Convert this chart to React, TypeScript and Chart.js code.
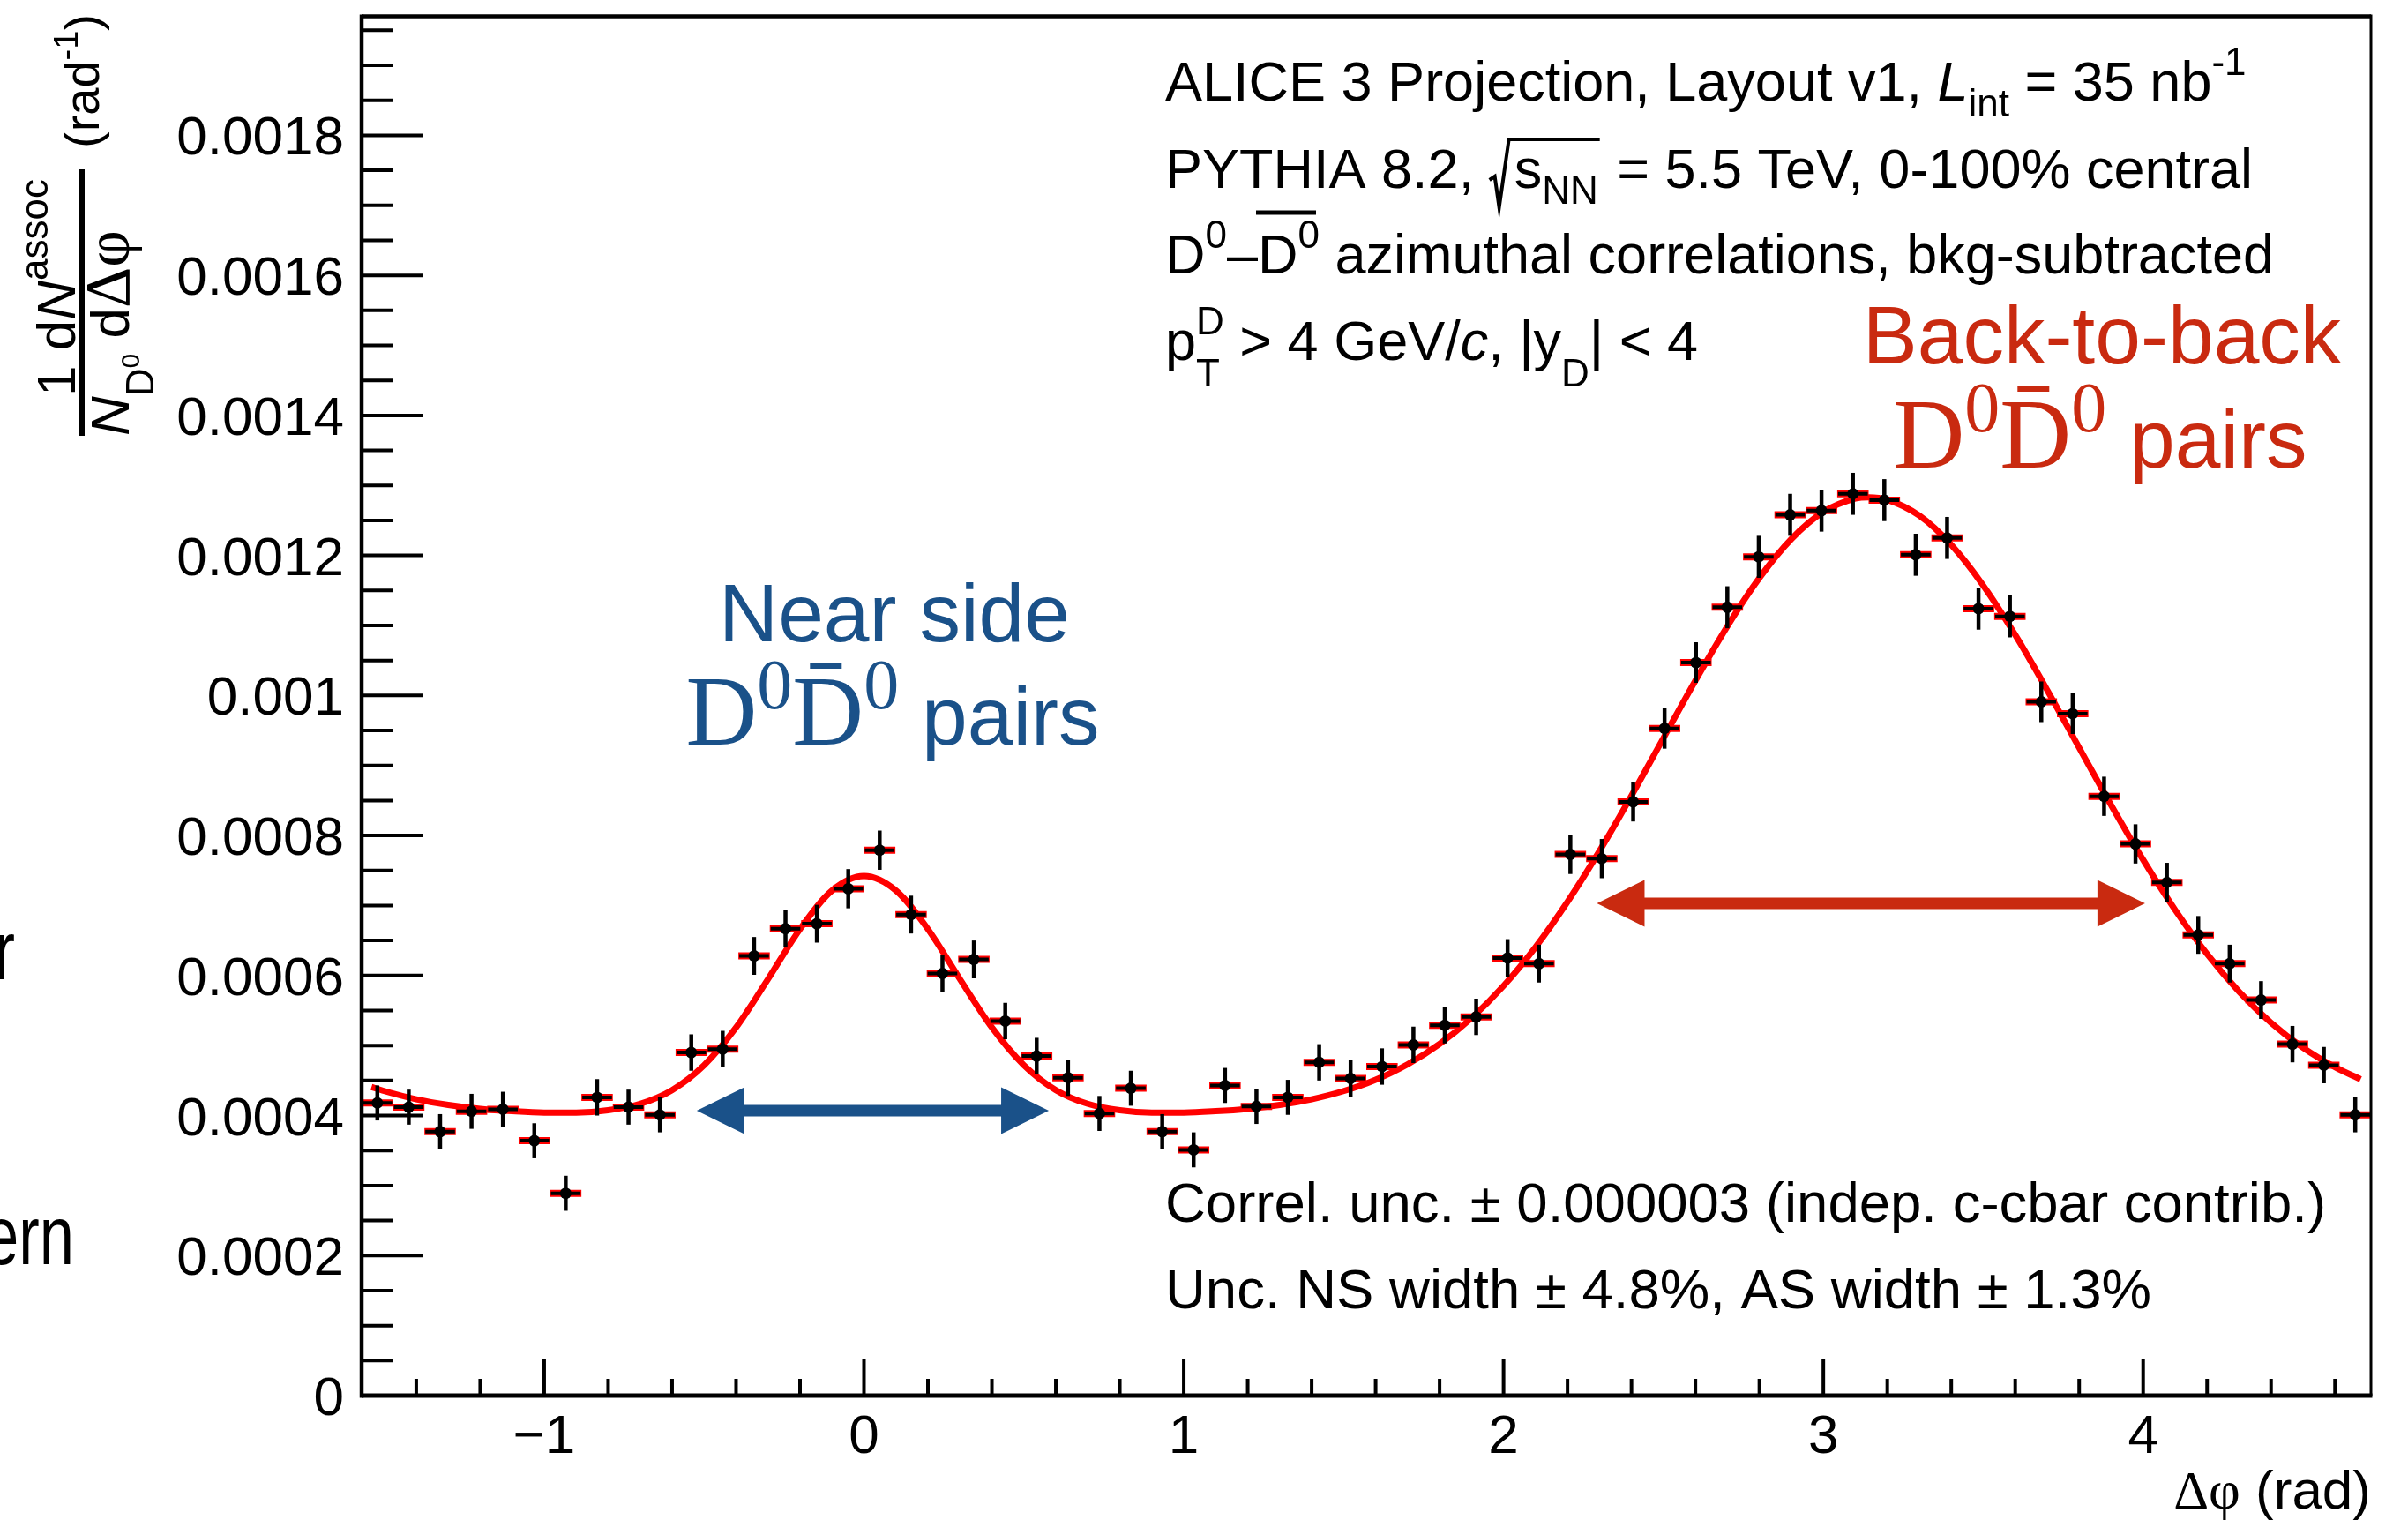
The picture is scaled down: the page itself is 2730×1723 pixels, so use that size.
import React, { useEffect, useRef } from "react";
import { Chart, registerables } from "chart.js";
Chart.register(...registerables);

const W = 2730;
const H = 1723;
const SANS = '"Liberation Sans", Arial, Helvetica, sans-serif';
const SERIF = '"Liberation Serif", "Times New Roman", serif';
const BLUE = "#1a5189";
const DARKRED = "#c92a10";

// ---- data: D0-D0bar azimuthal correlation (64 bins over [-pi/2, 3pi/2]) ----
const binCenters = [
  -1.5217, -1.4235, -1.3254, -1.2272, -1.129, -1.0308, -0.9327, -0.8345, -0.7363, -0.6381, -0.54, -0.4418,
  -0.3436, -0.2454, -0.1473, -0.0491, 0.0491, 0.1473, 0.2454, 0.3436, 0.4418, 0.54, 0.6381, 0.7363,
  0.8345, 0.9327, 1.0308, 1.129, 1.2272, 1.3254, 1.4235, 1.5217, 1.6199, 1.7181, 1.8162, 1.9144,
  2.0126, 2.1108, 2.2089, 2.3071, 2.4053, 2.5035, 2.6016, 2.6998, 2.798, 2.8962, 2.9943, 3.0925,
  3.1907, 3.2889, 3.387, 3.4852, 3.5834, 3.6816, 3.7797, 3.8779, 3.9761, 4.0743, 4.1724, 4.2706,
  4.3688, 4.467, 4.5651, 4.6633,
];
const binHalfWidth = 0.0491;
const yieldValues = [
  0.000418, 0.000412, 0.000377, 0.000406, 0.000409, 0.000364, 0.000289, 0.000426, 0.000412, 0.000401, 0.00049, 0.000495,
  0.000628, 0.000667, 0.000674, 0.000724, 0.000779, 0.000687, 0.000603, 0.000623, 0.000535, 0.000485, 0.000454, 0.000403,
  0.000439, 0.000377, 0.000351, 0.000443, 0.000413, 0.000426, 0.000476, 0.000453, 0.00047, 0.000501, 0.000529, 0.000541,
  0.000625, 0.000617, 0.000773, 0.000767, 0.000848, 0.000953, 0.001047, 0.001126, 0.001198, 0.001258, 0.001264, 0.001288,
  0.001279, 0.001201, 0.001225, 0.001124, 0.001113, 0.000991, 0.000974, 0.000856, 0.000788, 0.000733, 0.000658, 0.000617,
  0.000565, 0.000502, 0.000472, 0.000401,
];
const yieldErrors = [
  0.000025, 0.000025, 0.000025, 0.000025, 0.000025, 0.000025, 0.000025, 0.000026, 0.000025, 0.000025, 0.000026, 0.000026,
  0.000027, 0.000027, 0.000027, 0.000028, 0.000028, 0.000027, 0.000027, 0.000027, 0.000026, 0.000026, 0.000026, 0.000025,
  0.000025, 0.000025, 0.000025, 0.000025, 0.000025, 0.000025, 0.000026, 0.000026, 0.000026, 0.000026, 0.000026, 0.000026,
  0.000027, 0.000027, 0.000028, 0.000028, 0.000028, 0.000029, 0.000029, 0.00003, 0.00003, 0.00003, 0.00003, 0.00003,
  0.00003, 0.00003, 0.00003, 0.00003, 0.00003, 0.000029, 0.000029, 0.000028, 0.000028, 0.000028, 0.000027, 0.000027,
  0.000027, 0.000026, 0.000026, 0.000025,
];

// fit curve
const fitX = [
  -1.54, -1.5, -1.4, -1.3, -1.2, -1.1, -1.0, -0.9, -0.8, -0.7, -0.6, -0.5, -0.4, -0.3, -0.2, -0.1, 0,
  0.1, 0.2, 0.3, 0.4, 0.5, 0.6, 0.7, 0.8, 0.9, 1.0, 1.1, 1.2, 1.3, 1.4, 1.5, 1.6, 1.7, 1.8, 1.9, 2.0,
  2.1, 2.2, 2.3, 2.4, 2.5, 2.6, 2.7, 2.8, 2.9, 3.0, 3.1, 3.1416, 3.2, 3.3, 3.4, 3.5, 3.6, 3.7, 3.8, 3.9,
  4.0, 4.1, 4.2, 4.3, 4.4, 4.5, 4.6, 4.68,
];
const fitY = [
  0.0004408, 0.000435, 0.0004233, 0.0004152, 0.0004096, 0.0004062, 0.0004043, 0.0004043, 0.0004075, 0.0004167,
  0.0004364, 0.0004719, 0.0005258, 0.0005949, 0.0006663, 0.0007213, 0.000742,
  0.0007213, 0.0006663, 0.0005949, 0.0005258, 0.0004719, 0.0004364, 0.0004167, 0.0004075, 0.0004043, 0.0004043,
  0.0004062, 0.0004096, 0.0004152, 0.0004233, 0.000435, 0.0004512, 0.0004732, 0.0005022, 0.0005393, 0.0005853,
  0.0006407, 0.0007053, 0.0007779, 0.0008569, 0.0009392, 0.0010213, 0.001099, 0.0011678, 0.0012234, 0.0012621,
  0.0012812, 0.001283, 0.0012794, 0.0012569, 0.0012151, 0.0011571, 0.0010865, 0.0010078, 0.0009253, 0.0008433,
  0.0007652, 0.0006938, 0.0006307, 0.0005769, 0.0005324, 0.0004968, 0.0004691, 0.0004518,
];

const yMajorTicks = [0, 0.0002, 0.0004, 0.0006, 0.0008, 0.001, 0.0012, 0.0014, 0.0016, 0.0018];
const yTickLabels = ["0", "0.0002", "0.0004", "0.0006", "0.0008", "0.001", "0.0012", "0.0014", "0.0016", "0.0018"];
const xMajorTicks = [-1, 0, 1, 2, 3, 4];
const xTickLabels = ["\u22121", "0", "1", "2", "3", "4"];
const yMinorStep = 0.00005;
const xMinorStep = 0.2;
const X_MIN = -Math.PI / 2;
const X_MAX = (3 * Math.PI) / 2;
const Y_MIN = 0;
const Y_MAX = 0.00197;

const nearArrow = { from: -0.523, to: 0.578, y: 0.000407 };
const awayArrow = { from: 2.292, to: 4.006, y: 0.000703 };

// ---- rich text helpers ----
type Seg = {
  t?: string;
  f?: string;
  dy?: number;
  stack?: Seg[];
  sqrt?: Seg[];
  over?: Seg[];
  barDy?: number;
  barA?: number;
  barLen?: number;
  barLw?: number;
};

const F = (px: number, style = "") => `${style}${px}px ${SANS}`;
const FS = (px: number) => `${px}px ${SERIF}`;

function segWidth(ctx: CanvasRenderingContext2D, s: Seg): number {
  if (s.stack) return Math.max(...s.stack.map((c) => segWidth(ctx, c)));
  if (s.sqrt) return 28 + runWidth(ctx, s.sqrt) + 4;
  if (s.over) return runWidth(ctx, s.over);
  ctx.font = s.f as string;
  return ctx.measureText(s.t as string).width;
}
function runWidth(ctx: CanvasRenderingContext2D, segs: Seg[]): number {
  return segs.reduce((a, s) => a + segWidth(ctx, s), 0);
}
function drawSeg(ctx: CanvasRenderingContext2D, x: number, y: number, s: Seg): number {
  if (s.stack) {
    let w = 0;
    for (const c of s.stack) w = Math.max(w, drawSeg(ctx, x, y, c));
    return w;
  }
  if (s.sqrt) {
    const pad = 28;
    const w = runWidth(ctx, s.sqrt);
    ctx.save();
    ctx.strokeStyle = ctx.fillStyle as string;
    ctx.lineWidth = 4;
    ctx.lineJoin = "miter";
    ctx.beginPath();
    ctx.moveTo(x, y - 9);
    ctx.lineTo(x + 6, y - 13);
    ctx.lineTo(x + 11, y + 22);
    ctx.lineTo(x + 22, y - 55);
    ctx.lineTo(x + pad + w + 2, y - 55);
    ctx.stroke();
    ctx.restore();
    drawRun(ctx, x + pad, y, s.sqrt);
    return pad + w + 4;
  }
  if (s.over) {
    const w = drawRun(ctx, x, y, s.over);
    const lw = s.barLw ?? 5;
    ctx.fillRect(x + (s.barA ?? 0), y + (s.barDy ?? 0) - lw / 2, s.barLen ?? w, lw);
    return w;
  }
  ctx.font = s.f as string;
  ctx.fillText(s.t as string, x, y + (s.dy ?? 0));
  return ctx.measureText(s.t as string).width;
}
function drawRun(ctx: CanvasRenderingContext2D, x: number, y: number, segs: Seg[]): number {
  let cx = x;
  for (const s of segs) cx += drawSeg(ctx, cx, y, s);
  return cx - x;
}
function drawCentered(ctx: CanvasRenderingContext2D, cx: number, y: number, segs: Seg[]) {
  const w = runWidth(ctx, segs);
  drawRun(ctx, cx - w / 2, y, segs);
}
function drawRotRun(ctx: CanvasRenderingContext2D, X: number, Y: number, segs: Seg[]) {
  ctx.save();
  ctx.translate(X, Y);
  ctx.rotate(-Math.PI / 2);
  drawRun(ctx, 0, 0, segs);
  ctx.restore();
}
function drawDoubleArrow(
  ctx: CanvasRenderingContext2D,
  x1: number,
  x2: number,
  y: number,
  color: string
) {
  const shaft = 13;
  const headLen = 54;
  const headH = 53;
  ctx.save();
  ctx.fillStyle = color;
  ctx.beginPath();
  ctx.moveTo(x1, y);
  ctx.lineTo(x1 + headLen, y - headH / 2);
  ctx.lineTo(x1 + headLen, y - shaft / 2);
  ctx.lineTo(x2 - headLen, y - shaft / 2);
  ctx.lineTo(x2 - headLen, y - headH / 2);
  ctx.lineTo(x2, y);
  ctx.lineTo(x2 - headLen, y + headH / 2);
  ctx.lineTo(x2 - headLen, y + shaft / 2);
  ctx.lineTo(x1 + headLen, y + shaft / 2);
  ctx.lineTo(x1 + headLen, y + headH / 2);
  ctx.closePath();
  ctx.fill();
  ctx.restore();
}

const rootPlugin = {
  id: "rootStyle",
  beforeDatasetDraw(chart: any, args: any) {
    if (args.index !== 1) return;
    const ctx: CanvasRenderingContext2D = chart.ctx;
    const xs = chart.scales.x;
    const ys = chart.scales.y;
    ctx.save();
    ctx.lineCap = "butt";
    // red horizontal bin-width bars
    ctx.strokeStyle = "#ff0000";
    ctx.lineWidth = 8;
    binCenters.forEach((c, i) => {
      const py = ys.getPixelForValue(yieldValues[i]);
      ctx.beginPath();
      ctx.moveTo(xs.getPixelForValue(c - binHalfWidth), py);
      ctx.lineTo(xs.getPixelForValue(c + binHalfWidth), py);
      ctx.stroke();
    });
    // black horizontal and vertical bars
    ctx.strokeStyle = "#000";
    binCenters.forEach((c, i) => {
      const py = ys.getPixelForValue(yieldValues[i]);
      const px = xs.getPixelForValue(c);
      ctx.lineWidth = 4;
      ctx.beginPath();
      ctx.moveTo(xs.getPixelForValue(c - binHalfWidth) + 1, py);
      ctx.lineTo(xs.getPixelForValue(c + binHalfWidth) - 1, py);
      ctx.stroke();
      ctx.lineWidth = 4.5;
      ctx.beginPath();
      ctx.moveTo(px, ys.getPixelForValue(yieldValues[i] + yieldErrors[i]));
      ctx.lineTo(px, ys.getPixelForValue(yieldValues[i] - yieldErrors[i]));
      ctx.stroke();
    });
    ctx.restore();
  },
  afterDatasetsDraw(chart: any) {
    const ctx: CanvasRenderingContext2D = chart.ctx;
    const xs = chart.scales.x;
    const ys = chart.scales.y;
    drawDoubleArrow(
      ctx,
      xs.getPixelForValue(nearArrow.from),
      xs.getPixelForValue(nearArrow.to),
      ys.getPixelForValue(nearArrow.y),
      BLUE
    );
    drawDoubleArrow(
      ctx,
      xs.getPixelForValue(awayArrow.from),
      xs.getPixelForValue(awayArrow.to),
      ys.getPixelForValue(awayArrow.y),
      DARKRED
    );
  },
  afterDraw(chart: any) {
    const ctx: CanvasRenderingContext2D = chart.ctx;
    const xs = chart.scales.x;
    const ys = chart.scales.y;
    const a = chart.chartArea;
    ctx.save();
    ctx.fillStyle = "#000";
    ctx.strokeStyle = "#000";
    ctx.lineCap = "butt";

    // ticks (inside, left and bottom only)
    ctx.lineWidth = 4;
    for (let v = Y_MIN; v <= Y_MAX + 1e-12; v += yMinorStep) {
      const isMajor = yMajorTicks.some((m) => Math.abs(m - v) < 1e-9);
      const py = ys.getPixelForValue(v);
      ctx.beginPath();
      ctx.moveTo(a.left, py);
      ctx.lineTo(a.left + (isMajor ? 70 : 35), py);
      ctx.stroke();
    }
    for (let v = -1.4; v <= X_MAX; v += xMinorStep) {
      const isMajor = xMajorTicks.some((m) => Math.abs(m - v) < 1e-6);
      const px = xs.getPixelForValue(v);
      ctx.beginPath();
      ctx.moveTo(px, a.bottom);
      ctx.lineTo(px, a.bottom - (isMajor ? 41 : 19));
      ctx.stroke();
    }

    // frame
    ctx.lineWidth = 4.5;
    ctx.beginPath();
    ctx.moveTo(a.left, a.top);
    ctx.lineTo(a.right, a.top);
    ctx.stroke();
    ctx.beginPath();
    ctx.moveTo(a.left, a.top - 2);
    ctx.lineTo(a.left, a.bottom + 2.5);
    ctx.stroke();
    ctx.lineWidth = 5;
    ctx.beginPath();
    ctx.moveTo(a.left, a.bottom);
    ctx.lineTo(a.right + 1.5, a.bottom);
    ctx.stroke();
    ctx.lineWidth = 3;
    ctx.beginPath();
    ctx.moveTo(a.right, a.top - 2);
    ctx.lineTo(a.right, a.bottom);
    ctx.stroke();

    // tick labels
    ctx.textBaseline = "alphabetic";
    ctx.font = F(62);
    ctx.textAlign = "right";
    yMajorTicks.forEach((v, i) => {
      ctx.fillText(yTickLabels[i], a.left - 20, ys.getPixelForValue(v) + 22);
    });
    ctx.textAlign = "center";
    xMajorTicks.forEach((v, i) => {
      ctx.fillText(xTickLabels[i], xs.getPixelForValue(v), 1647);
    });

    // x title
    ctx.textAlign = "left";
    const xTitle: Seg[] = [
      { t: "\u0394\u03c6", f: FS(62) },
      { t: " (rad)", f: F(62) },
    ];
    drawRun(ctx, a.right - runWidth(ctx, xTitle), 1710, xTitle);

    // y title (rotated fraction)
    drawRotRun(ctx, 85, 449, [
      { t: "1 d", f: F(62) },
      { t: "N", f: F(62, "italic ") },
      { t: "assoc", f: F(44), dy: -31 },
    ]);
    drawRotRun(ctx, 146, 494, [
      { t: "N", f: F(62, "italic ") },
      { t: "D", f: F(44), dy: 28 },
      { t: "0", f: F(30), dy: 12 },
      { t: " d", f: F(62) },
      { t: "\u0394\u03c6", f: FS(72) },
    ]);
    ctx.fillRect(90, 192, 6, 302);
    drawRotRun(ctx, 112, 168, [
      { t: "(rad", f: F(56) },
      { t: "-1", f: F(38), dy: -24 },
      { t: ")", f: F(56) },
    ]);

    // info block
    const TX = 1321;
    drawRun(ctx, TX, 114, [
      { t: "ALICE 3 Projection, Layout v1, ", f: F(63) },
      { t: "L", f: F(63, "italic ") },
      { t: "int", f: F(44), dy: 18 },
      { t: " = 35 nb", f: F(63) },
      { t: "-1", f: F(44), dy: -29 },
    ]);
    drawRun(ctx, TX, 213, [
      { t: "PYTHIA 8.2, ", f: F(63) },
      { sqrt: [{ t: "s", f: F(63) }, { t: "NN", f: F(44), dy: 18 }] },
      { t: " = 5.5 TeV, 0-100% central", f: F(63) },
    ]);
    drawRun(ctx, TX, 310, [
      { t: "D", f: F(63) },
      { t: "0", f: F(44), dy: -29 },
      { t: "\u2013", f: F(63) },
      {
        over: [{ t: "D", f: F(63) }, { t: "0", f: F(44), dy: -29 }],
        barDy: -69,
        barA: -2,
        barLen: 68,
        barLw: 5,
      },
      { t: " azimuthal correlations, bkg-subtracted", f: F(63) },
    ]);
    drawRun(ctx, TX, 408, [
      { t: "p", f: F(63) },
      { stack: [{ t: "D", f: F(44), dy: -29 }, { t: "T", f: F(44), dy: 30 }] },
      { t: " > 4 GeV/", f: F(63) },
      { t: "c", f: F(63, "italic ") },
      { t: ", |y", f: F(63) },
      { t: "D", f: F(44), dy: 30 },
      { t: "| < 4", f: F(63) },
    ]);
    drawRun(ctx, TX, 1385, [{ t: "Correl. unc. \u00b1 0.000003 (indep. c-cbar contrib.)", f: F(63.5) }]);
    drawRun(ctx, TX, 1483, [{ t: "Unc. NS width \u00b1 4.8%, AS width \u00b1 1.3%", f: F(63.5) }]);

    // peak annotations
    const pairs: Seg[] = [
      { t: "D", f: FS(112) },
      { t: "0", f: FS(80), dy: -41 },
      { over: [{ t: "D", f: FS(112) }], barDy: -89, barA: 20, barLen: 36, barLw: 6 },
      { t: "0", f: FS(80), dy: -41 },
      { t: " pairs", f: F(93) },
    ];
    ctx.fillStyle = BLUE;
    drawCentered(ctx, 1014, 727, [{ t: "Near side", f: F(93) }]);
    drawCentered(ctx, 1012, 844, pairs);
    ctx.fillStyle = DARKRED;
    drawCentered(ctx, 2383, 412, [{ t: "Back-to-back", f: F(93) }]);
    drawCentered(ctx, 2381, 530, pairs);

    // clipped text from the neighbouring slide
    ctx.fillStyle = "#000";
    ctx.font = F(94);
    ctx.textAlign = "right";
    ctx.save();
    ctx.scale(0.75, 1);
    ctx.fillText("r", 17 / 0.75, 1110);
    ctx.fillText("ern", 84 / 0.75, 1433);
    ctx.restore();
    ctx.restore();
  },
};

export default function App() {
  const canvasRef = useRef<HTMLCanvasElement | null>(null);
  useEffect(() => {
    const canvas = canvasRef.current;
    if (!canvas) return;
    const chart = new Chart(canvas, {
      type: "scatter",
      data: {
        datasets: [
          {
            type: "line",
            label: "fit",
            data: fitX.map((x, i) => ({ x, y: fitY[i] })),
            borderColor: "#ff0000",
            borderWidth: 7,
            pointRadius: 0,
            cubicInterpolationMode: "monotone",
            fill: false,
            order: 2,
          } as any,
          {
            type: "scatter",
            label: "data",
            data: binCenters.map((x, i) => ({ x, y: yieldValues[i] })),
            pointRadius: 6.5,
            pointBackgroundColor: "#000",
            pointBorderColor: "#000",
            pointBorderWidth: 0,
            order: 1,
          } as any,
        ],
      },
      options: {
        responsive: false,
        animation: false,
        devicePixelRatio: 1,
        events: [],
        layout: { padding: { left: 410, right: 42, top: 18.5, bottom: 141 } },
        scales: {
          x: { type: "linear", min: X_MIN, max: X_MAX, display: false },
          y: { type: "linear", min: Y_MIN, max: Y_MAX, display: false },
        },
        plugins: { legend: { display: false }, tooltip: { enabled: false } },
      } as any,
      plugins: [rootPlugin as any],
    });
    return () => chart.destroy();
  }, []);
  return (
    <div style={{ position: "absolute", left: 0, top: 0, width: W, height: H, background: "#fff" }}>
      <canvas ref={canvasRef} width={W} height={H} style={{ width: W, height: H, display: "block" }} />
    </div>
  );
}
